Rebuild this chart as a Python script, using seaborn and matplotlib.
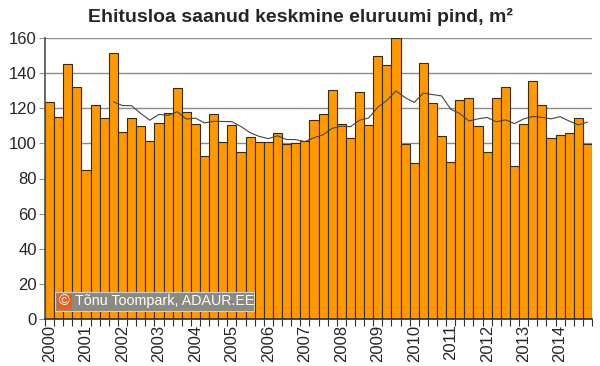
"""
Ehitusloa saanud keskmine eluruumi pind (quarterly bars + 8-quarter moving average).
"""

import numpy as np
import pandas as pd
import matplotlib.pyplot as plt
from matplotlib.patches import Rectangle
import seaborn as sns

# -------------------------------------------------------
# Data
# -------------------------------------------------------
years = list(range(2000, 2015))
quarters = ["I", "II", "III", "IV"]
area = [
    123.8, 115.2, 145.3, 132.2,   # 2000
    85.0, 121.9, 114.5, 151.6,    # 2001
    106.5, 114.7, 109.9, 101.3,   # 2002
    111.6, 117.3, 131.4, 118.0,   # 2003
    110.9, 93.0, 117.0, 100.6,    # 2004
    110.5, 95.2, 103.4, 101.0,    # 2005
    101.0, 105.9, 99.8, 100.4,    # 2006
    101.3, 113.1, 116.6, 130.5,   # 2007
    110.9, 103.2, 129.5, 110.6,   # 2008
    149.9, 144.6, 159.8, 99.8,    # 2009
    89.0, 145.9, 122.9, 104.4,    # 2010
    89.5, 124.8, 125.7, 109.7,    # 2011
    95.2, 125.9, 132.0, 87.2,     # 2012
    111.0, 135.6, 121.9, 103.0,   # 2013
    104.9, 106.0, 114.7, 99.6,    # 2014
]
ma_window = 8   # moving-average trendline, quarters

# -------------------------------------------------------
# Style
# -------------------------------------------------------
sns.set_theme(style="white")
plt.rcParams["font.family"] = ["Liberation Sans", "DejaVu Sans"]

BAR = "#FF9900"
EDGE = "#3a2a10"
GRID = "#8c8c8c"

df = pd.DataFrame({
    "period": [f"{y}-{q}" for y in years for q in quarters],
    "area": area,
})
df["ma"] = df["area"].rolling(ma_window).mean()

fig = plt.figure(figsize=(6.0, 3.66), dpi=100)
ax = fig.add_axes([45 / 600, 47 / 366, 547 / 600, 281 / 366])

sns.barplot(data=df, x="period", y="area", color=BAR, saturation=1,
            width=1.0, edgecolor=EDGE, linewidth=0.8, ax=ax, zorder=2)
ax.plot(np.arange(len(df)), df["ma"], color="#444444", linewidth=0.8, zorder=3)

ax.set_xlim(-0.5, len(df) - 0.5)
ax.set_ylim(0, 160)
ax.set_yticks(range(0, 161, 20))
ax.yaxis.grid(True, color=GRID, linewidth=1.0, zorder=0)
ax.set_axisbelow(True)
ax.set_xlabel("")
ax.set_ylabel("")

ax.set_xticks(range(0, len(df), 4))
ax.set_xticklabels([str(y) for y in years], rotation=90, fontsize=12)
ax.set_xticks(np.arange(-0.5, len(df), 1), minor=True)
ax.tick_params(axis="x", which="major", length=0, pad=4)
ax.tick_params(axis="x", which="minor", length=5, width=0.8, color="#333333",
               direction="out", bottom=True)
ax.tick_params(axis="y", length=4, width=0.8, color=GRID, labelsize=12,
               left=True, pad=2)

for s in ["top", "right"]:
    ax.spines[s].set_visible(False)
ax.spines["left"].set_color("#555555")
ax.spines["bottom"].set_color("#333333")

fig.text(0.5, 1 - 17 / 366, "Ehitusloa saanud keskmine eluruumi pind, m²",
         ha="center", va="center", fontsize=14, fontweight="bold")

# watermark
def px(x, y):
    return x / 600, 1 - y / 366

x0, y0 = px(55, 311)
fig.add_artist(Rectangle((x0, y0), 199 / 600, 19 / 366, transform=fig.transFigure,
                         facecolor="#8a8a82", edgecolor="#cfcfcf", linewidth=0.8,
                         zorder=5))
x1, y1 = px(57, 309)
fig.add_artist(Rectangle((x1, y1), 15 / 600, 15 / 366, transform=fig.transFigure,
                         facecolor="#E8601C", edgecolor="none", zorder=6))
fig.text(*px(64.5, 301.5), "©", ha="center", va="center", color="white",
         fontsize=10.5, zorder=7)
fig.text(*px(75, 301.5), "Tõnu Toompark, ADAUR.EE", ha="left", va="center",
         color="white", fontsize=10.3, zorder=7)

fig.savefig("out.png", dpi=100)
plt.close()
